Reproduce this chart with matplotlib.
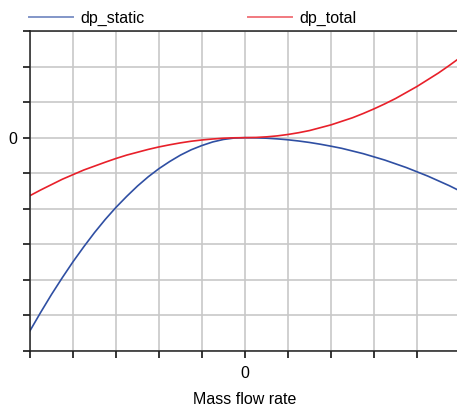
import matplotlib
matplotlib.use('Agg')
from matplotlib import pyplot as plt

plt.rcParams['font.family'] = ['Liberation Sans', 'DejaVu Sans']

# mass flow rate (axis units, 0 in the middle)
m_flow = [-5.0, -4.75, -4.5, -4.25, -4.0, -3.75, -3.5, -3.25, -3.0, -2.75,
          -2.5, -2.25, -2.0, -1.75, -1.5, -1.25, -1.0, -0.75, -0.5, -0.25,
          0.0, 0.25, 0.5, 0.75, 1.0, 1.25, 1.5, 1.75, 2.0, 2.25,
          2.5, 2.75, 3.0, 3.25, 3.5, 3.75, 4.0, 4.25, 4.5, 4.75, 5.0]

dp_static = [-5.43, -4.91, -4.41, -3.94, -3.49, -3.07, -2.67, -2.30, -1.96, -1.65,
             -1.36, -1.10, -0.87, -0.67, -0.49, -0.34, -0.22, -0.12, -0.05, -0.01,
             0.0, -0.004, -0.015, -0.034, -0.06, -0.094, -0.135, -0.184, -0.24, -0.30,
             -0.375, -0.45, -0.54, -0.63, -0.735, -0.84, -0.96, -1.08, -1.215, -1.35, -1.50]

dp_total = [-1.63, -1.47, -1.32, -1.17, -1.04, -0.91, -0.80, -0.69, -0.585, -0.49,
            -0.41, -0.33, -0.26, -0.20, -0.146, -0.10, -0.065, -0.037, -0.016, -0.004,
            0.0, 0.006, 0.023, 0.05, 0.09, 0.14, 0.20, 0.28, 0.36, 0.46,
            0.56, 0.68, 0.81, 0.95, 1.10, 1.27, 1.44, 1.63, 1.82, 2.03, 2.25]

x_ticks = [-5, -4, -3, -2, -1, 0, 1, 2, 3, 4, 5]
y_ticks = [-6, -5, -4, -3, -2, -1, 0, 1, 2, 3]

fig = plt.figure(figsize=(4.57, 4.07), dpi=100)
ax = fig.add_axes([30 / 457, 56 / 407, 430 / 457, 320 / 407])

ax.plot(m_flow, dp_static, color='#2f4fa3', lw=1.2, label='dp_static')
ax.plot(m_flow, dp_total, color='#e8202a', lw=1.2, label='dp_total')

ax.set_xlim(-5, 5)
ax.set_ylim(-6, 3)
ax.set_xticks(x_ticks)
ax.set_yticks(y_ticks)
ax.set_xticklabels(['0' if t == 0 else '' for t in x_ticks])
ax.set_yticklabels(['0' if t == 0 else '' for t in y_ticks])
ax.tick_params(direction='out', length=5, width=1.1, labelsize=11.5, colors='black')
ax.tick_params(axis='y', pad=4.5)
ax.tick_params(axis='x', pad=6)
ax.grid(True, color='#c8c8c8', lw=1.2)
ax.set_axisbelow(True)

for side in ['left', 'top', 'bottom', 'right']:
    ax.spines[side].set_linewidth(1.1)
    ax.spines[side].set_color('#202020')

ax.set_xlabel('Mass flow rate', fontsize=11.5, labelpad=8)

legend = ax.legend(loc='center left', bbox_to_anchor=(29 / 457, 1 - 18 / 407),
                   bbox_transform=fig.transFigure, ncol=2, frameon=False,
                   fontsize=11.5, handlelength=2.75, handletextpad=0.45,
                   columnspacing=6.5, borderpad=0, borderaxespad=0)
for h in legend.get_lines():
    h.set_alpha(0.6)
    h.set_linewidth(1.4)

plt.savefig('out.png', dpi=100)
